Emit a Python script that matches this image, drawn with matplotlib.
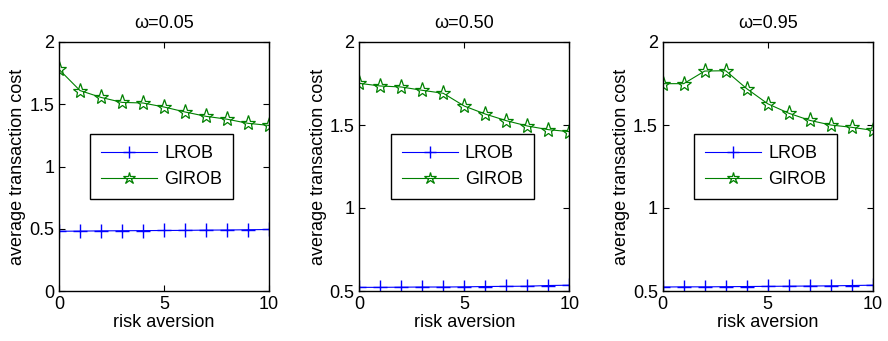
import matplotlib
matplotlib.use("Agg")
import matplotlib.pyplot as plt

plt.rcParams['font.family'] = ['Liberation Sans', 'DejaVu Sans']
plt.rcParams['font.size'] = 13

# risk aversion levels
risk = [0, 1, 2, 3, 4, 5, 6, 7, 8, 9, 10]

titles = ['ω=0.05', 'ω=0.50', 'ω=0.95']

# average transaction cost, omega = 0.05
lrob_005 = [0.48, 0.481, 0.483, 0.484, 0.485, 0.486, 0.487, 0.489, 0.490, 0.492, 0.494]
girob_005 = [1.78, 1.61, 1.555, 1.515, 1.51, 1.478, 1.438, 1.403, 1.38, 1.347, 1.33]

# omega = 0.50
lrob_050 = [0.522, 0.522, 0.523, 0.524, 0.524, 0.525, 0.527, 0.528, 0.529, 0.533, 0.535]
girob_050 = [1.751, 1.735, 1.729, 1.709, 1.691, 1.614, 1.566, 1.526, 1.494, 1.472, 1.46]

# omega = 0.95
lrob_095 = [0.524, 0.525, 0.525, 0.526, 0.527, 0.528, 0.529, 0.530, 0.531, 0.533, 0.535]
girob_095 = [1.749, 1.749, 1.825, 1.827, 1.719, 1.628, 1.571, 1.528, 1.5, 1.486, 1.468]

lrob_all = [lrob_005, lrob_050, lrob_095]
girob_all = [girob_005, girob_050, girob_095]
ylims = [(0, 2), (0.5, 2), (0.5, 2)]
yticks_all = [[0, 0.5, 1, 1.5, 2], [0.5, 1, 1.5, 2], [0.5, 1, 1.5, 2]]
lefts = [59, 359.3, 662.7]

W, H = 888, 341
fig = plt.figure(figsize=(W / 100, H / 100), dpi=100)

for i in range(3):
    ax = fig.add_axes([lefts[i] / W, (H - 291) / H, 210 / W, 249 / H])
    ax.plot(risk, lrob_all[i], color=(0, 0, 1), marker='+', markersize=10,
            linewidth=0.8, label='LROB')
    ax.plot(risk, girob_all[i], color=(0, 0.5, 0), marker='*', markersize=11,
            markerfacecolor='none', markeredgewidth=0.9, linewidth=0.8, label='GIROB')
    ax.set_xlim(0, 10)
    ax.set_ylim(*ylims[i])
    ax.set_xticks([0, 5, 10])
    ax.set_yticks(yticks_all[i])
    ax.set_yticklabels([('%g' % v) for v in yticks_all[i]])
    ax.tick_params(direction='in', top=True, right=True, length=4, labelsize=13)
    for s in ax.spines.values():
        s.set_linewidth(1.0)
    ax.set_title(titles[i], fontsize=13, pad=10)
    ax.set_xlabel('risk aversion', fontsize=13, labelpad=1)
    ax.set_ylabel('average transaction cost', fontsize=13, labelpad=2)
    leg = ax.legend(loc='center', bbox_to_anchor=(0.49, 0.50), fancybox=False,
                    edgecolor='black', framealpha=1, handlelength=3.1,
                    handletextpad=0.4, numpoints=1, markerscale=0.8,
                    borderpad=0.6, labelspacing=0.5, fontsize=13)
    leg.get_frame().set_linewidth(1.0)

fig.savefig('out.png', dpi=100)
